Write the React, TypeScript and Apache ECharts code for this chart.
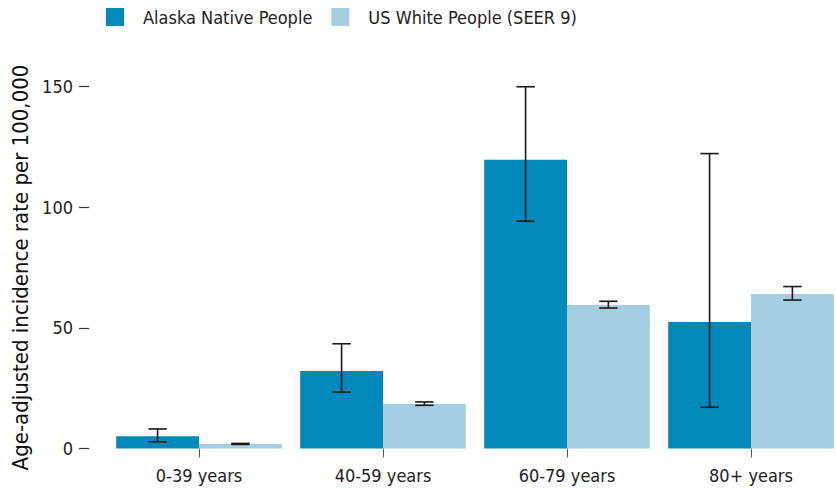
import React, { useEffect, useRef } from "react";
import * as echarts from "echarts";

const categories = ["0-39 years", "40-59 years", "60-79 years", "80+ years"];
const alaskaRate = [5.1, 32.1, 119.6, 52.4];
const alaskaLow = [2.8, 23.4, 94.2, 17.1];
const alaskaHigh = [8.1, 43.4, 149.9, 122.2];
const whiteRate = [1.9, 18.4, 59.5, 64.0];
const whiteLow = [1.7, 17.9, 58.2, 61.5];
const whiteHigh = [2.1, 19.3, 61.0, 67.1];
const seriesNames = ["Alaska Native People", "US White People (SEER 9)"];
const yTicks = { min: 0, max: 150, interval: 50 };

const FONT = "'DejaVu Sans Condensed', 'Liberation Sans Narrow', sans-serif";
const DARK = "#0089ba";
const LIGHT = "#a6cee3";

export default function App() {
  const ref = useRef<HTMLDivElement>(null);
  useEffect(() => {
    if (!ref.current) return;
    const chart = echarts.init(ref.current, undefined, { renderer: "svg" });
    const errData: number[][] = [];
    categories.forEach((_, i) => {
      errData.push([i, alaskaLow[i], alaskaHigh[i], -1]);
      errData.push([i, whiteLow[i], whiteHigh[i], 1]);
    });
    chart.setOption({
      animation: false,
      textStyle: { fontFamily: FONT },
      legend: {
        data: seriesNames,
        left: 106,
        top: 8,
        padding: 0,
        itemWidth: 18,
        itemHeight: 18,
        itemGap: 19,
        icon: "rect",
        textStyle: { fontSize: 18, color: "#222", fontFamily: FONT, padding: [0, 0, 0, 14] },
      },
      grid: { left: 107, right: -7, top: 86.5, bottom: 45.5, containLabel: false, outerBoundsMode: "none" },
      xAxis: {
        type: "category",
        data: categories,
        offset: 2,
        axisLine: { show: false },
        axisTick: { show: true, alignWithLabel: true, length: 9, lineStyle: { color: "#555", width: 1 } },
        axisLabel: { fontSize: 18, color: "#222", margin: 16, fontFamily: FONT },
        splitLine: { show: false },
      },
      yAxis: {
        type: "value",
        min: yTicks.min,
        max: yTicks.max,
        interval: yTicks.interval,
        offset: 18,
        name: "Age-adjusted incidence rate per 100,000",
        nameLocation: "middle",
        nameGap: 53,
        nameTextStyle: { fontSize: 22, color: "#111", fontFamily: FONT },
        axisLine: { show: false },
        axisTick: { show: true, length: 10, lineStyle: { color: "#333", width: 1.2 } },
        axisLabel: { fontSize: 18, color: "#222", margin: 16, fontFamily: FONT },
        splitLine: { show: false },
      },
      series: [
        {
          name: seriesNames[0],
          type: "bar",
          data: alaskaRate,
          barWidth: "45%",
          barGap: "0%",
          itemStyle: { color: DARK },
        },
        {
          name: seriesNames[1],
          type: "bar",
          data: whiteRate,
          barWidth: "45%",
          barGap: "0%",
          itemStyle: { color: LIGHT },
        },
        {
          type: "custom",
          name: "errors",
          data: errData,
          encode: { x: 0, y: [1, 2] },
          z: 10,
          renderItem: (params: any, api: any) => {
            const x = api.value(0);
            const lo = api.value(1);
            const hi = api.value(2);
            const side = api.value(3);
            const catW = api.size([1, 0])[0];
            const off = side * catW * 0.225;
            const pLo = api.coord([x, lo]);
            const pHi = api.coord([x, hi]);
            const cx = pLo[0] + off;
            const half = catW * 0.05;
            const style = { stroke: "#1a1a1a", lineWidth: 1.6 };
            return {
              type: "group",
              children: [
                { type: "line", shape: { x1: cx, y1: pLo[1], x2: cx, y2: pHi[1] }, style },
                { type: "line", shape: { x1: cx - half, y1: pLo[1], x2: cx + half, y2: pLo[1] }, style },
                { type: "line", shape: { x1: cx - half, y1: pHi[1], x2: cx + half, y2: pHi[1] }, style },
              ],
            };
          },
        },
      ],
    });
    return () => chart.dispose();
  }, []);
  return (
    <div
      ref={ref}
      style={{ position: "fixed", left: 0, top: 0, width: 836, height: 494, background: "#fff" }}
    />
  );
}
